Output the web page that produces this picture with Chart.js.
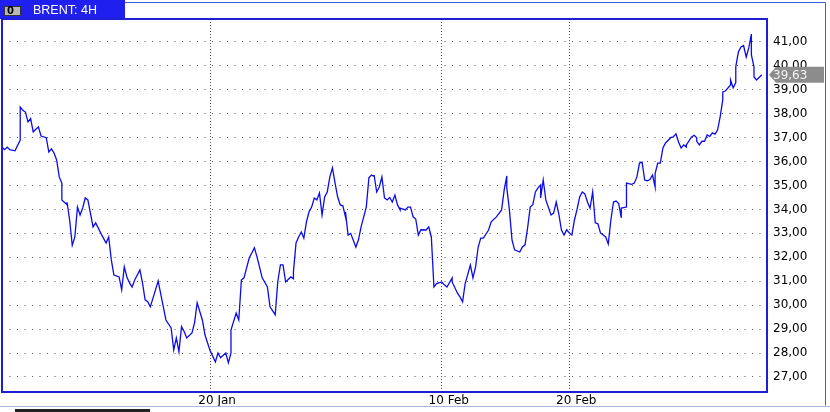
<!DOCTYPE html>
<html>
<head>
<meta charset="utf-8">
<script src="https://cdn.jsdelivr.net/npm/chart.js@4"></script>
<style>
html, body { margin: 0; padding: 0; background: #fff; }
</style>
</head>
<body>
<canvas id="brentChart" width="830" height="412"></canvas>
<script>
// 4H bars of Brent, bar number counted from the first bar on screen
const barNumbers = [
    0, 1, 2, 3, 5, 7, 7, 8, 9, 10,
    11, 12, 13, 14, 15, 17, 18, 19, 20, 21,
    22, 23, 23, 25, 25, 26, 27, 28, 29, 30,
    31, 32, 33, 35, 36, 38, 40, 41, 42, 43,
    45, 46, 47, 48, 49, 50, 51, 53, 54, 55,
    56, 57, 59, 60, 62, 63, 65, 66, 67, 68,
    69, 70, 71, 73, 74, 75, 77, 78, 79, 80,
    82, 83, 84, 86, 87, 88, 88, 90, 91, 92,
    93, 95, 96, 97, 98, 100, 102, 103, 105, 106,
    107, 108, 109, 111, 112, 112, 113, 114, 115, 116,
    117, 118, 119, 120, 121, 122, 123, 124, 125, 126,
    127, 128, 129, 130, 131, 132, 132, 133, 134, 136,
    137, 138, 140, 141, 142, 143, 143, 144, 145, 146,
    147, 148, 149, 150, 151, 152, 153, 153, 155, 156,
    157, 158, 159, 160, 161, 163, 163, 164, 165, 166,
    167, 169, 170, 171, 173, 173, 175, 176, 177, 178,
    180, 181, 182, 183, 184, 185, 187, 188, 190, 192,
    193, 194, 194, 195, 196, 197, 199, 200, 201, 202,
    203, 204, 205, 206, 207, 207, 208, 209, 211, 212,
    213, 214, 215, 216, 217, 218, 219, 220, 221, 222,
    223, 224, 225, 226, 227, 228, 229, 230, 232, 233,
    234, 235, 236, 237, 238, 238, 240, 240, 242, 243,
    244, 245, 246, 247, 248, 249, 250, 251, 251, 252,
    253, 254, 255, 257, 258, 259, 260, 261, 262, 263,
    263, 265, 266, 267, 267, 268, 269, 270, 271, 272,
    273, 274, 275, 276, 277, 277, 278, 280, 280, 281,
    282, 282, 283, 284, 285, 286, 287, 288, 288, 288,
    289, 289, 290, 292
];

const closePrices = [
    36.61, 36.5, 36.6, 36.5, 36.45, 36.9, 38.28, 38.15, 38.07, 37.66,
    37.8, 37.24, 37.35, 37.45, 37.07, 37.0, 36.4, 36.53, 36.36, 36.07,
    35.36, 35.1, 34.4, 34.2, 34.3, 33.56, 32.5, 32.85, 34.1, 33.77,
    34.06, 34.48, 34.4, 33.27, 33.44, 33.0, 32.6, 32.85, 31.9, 31.26,
    31.18, 30.64, 31.6, 31.18, 30.93, 30.76, 31.05, 31.47, 30.93, 30.22,
    30.14, 29.93, 30.64, 31.01, 29.93, 29.38, 29.05, 28.13, 28.63, 28.05,
    29.1, 28.9, 28.63, 28.84, 29.26, 30.1, 29.38, 28.76, 28.42, 28.09,
    27.63, 28.0, 27.8, 28.0, 27.59, 28.0, 28.96, 29.67, 29.38, 31.05,
    31.14, 31.97, 32.18, 32.4, 32.02, 31.14, 30.76, 29.93, 29.6, 31.0,
    31.68, 31.68, 30.97, 31.18, 31.1, 31.39, 32.6, 32.85, 33.06, 32.8,
    33.48, 33.9, 34.1, 34.48, 34.4, 34.69, 33.77, 34.52, 34.73, 35.36,
    35.74, 35.1, 34.52, 34.19, 34.15, 33.69, 33.9, 32.93, 33.0, 32.43,
    32.73, 33.27, 34.1, 35.32, 35.44, 35.38, 35.44, 34.73, 34.94, 35.36,
    34.48, 34.4, 34.5, 34.31, 34.6, 34.19, 33.98, 34.05, 33.98, 34.1,
    34.1, 33.69, 33.6, 32.93, 33.15, 33.14, 33.14, 33.27, 32.85, 30.76,
    30.9, 30.97, 30.85, 30.76, 31.14, 30.97, 30.51, 30.35, 30.14, 30.9,
    31.68, 31.14, 31.6, 32.43, 32.8, 32.8, 33.14, 33.48, 33.69, 33.98,
    34.82, 35.4, 34.9, 33.98, 32.73, 32.31, 32.22, 32.43, 32.52, 33.23,
    34.1, 34.2, 34.73, 34.9, 35.02, 34.48, 35.23, 34.4, 33.77, 33.85,
    34.31, 33.8, 33.14, 32.93, 33.15, 33.02, 32.93, 33.56, 34.0, 34.52,
    34.73, 34.65, 34.31, 34.05, 34.73, 33.44, 33.4, 33.02, 32.85, 32.56,
    33.56, 34.31, 34.35, 34.25, 33.65, 34.06, 34.1, 35.1, 35.05, 35.1,
    35.36, 35.94, 35.98, 35.23, 35.2, 35.25, 35.44, 34.94, 35.5, 35.94,
    35.94, 36.57, 36.78, 37.0, 37.03, 37.16, 36.82, 36.57, 36.7, 36.61,
    36.7, 37.03, 37.1, 37.0, 36.85, 36.7, 36.85, 36.85, 37.11, 37.05,
    37.2, 37.15, 37.32, 37.87, 38.58, 38.91, 38.95, 39.2, 39.41, 39.08,
    39.3, 39.96, 40.58, 40.79, 40.85, 40.37, 40.75, 41.33, 40.9, 40.46,
    39.96, 39.54, 39.41, 39.63
];

const priceTicks = [27, 28, 29, 30, 31, 32, 33, 34, 35, 36, 37, 38, 39, 40, 41];
const dateTicks = [80, 169, 218];
const dateLabels = ['20 Jan', '10 Feb', '20 Feb'];
const symbolTitle = 'BRENT: 4H';
const lastPrice = 39.63;

const fontFamily = 'DejaVu Sans';

function formatPrice(v) {
    return v.toFixed(2).replace('.', ',');
}

// window frame, title tab, plot border and the last-price marker
const terminalChrome = {
    id: 'terminalChrome',
    afterDraw(chart) {
        const ctx = chart.ctx;
        const area = chart.chartArea;
        ctx.save();

        // outer window border
        ctx.strokeStyle = '#3c5ae6';
        ctx.lineWidth = 1;
        ctx.beginPath();
        ctx.moveTo(125, 2.5);
        ctx.lineTo(825.5, 2.5);
        ctx.lineTo(825.5, 405.5);
        ctx.stroke();
        ctx.strokeStyle = '#a9b9d9';
        ctx.beginPath();
        ctx.moveTo(0, 406.5);
        ctx.lineTo(830, 406.5);
        ctx.stroke();
        ctx.fillStyle = '#222';
        ctx.fillRect(15, 409, 135, 3);

        // title tab
        ctx.fillStyle = '#1f1ff0';
        ctx.fillRect(0, 0, 125, 19);
        ctx.fillStyle = '#b8b8b8';
        ctx.fillRect(4, 6, 17, 10);
        ctx.strokeStyle = '#333';
        ctx.strokeRect(4.5, 6.5, 16, 9);
        ctx.fillStyle = '#000';
        ctx.font = 'bold 10px ' + fontFamily;
        ctx.textBaseline = 'middle';
        ctx.textAlign = 'left';
        ctx.fillText('0', 7, 11.5);
        ctx.fillStyle = '#fff';
        ctx.font = '12.5px "Liberation Sans"';
        ctx.fillText(symbolTitle, 33, 10.5);

        // plot border
        ctx.strokeStyle = '#1e1ed2';
        ctx.lineWidth = 2;
        ctx.strokeRect(area.left, area.top, area.right - area.left, area.bottom - area.top);

        // last price marker
        const y = chart.scales.y.getPixelForValue(lastPrice);
        const tipX = area.right + 2;
        ctx.fillStyle = '#8c8c8c';
        ctx.beginPath();
        ctx.moveTo(tipX, y);
        ctx.lineTo(tipX + 7, y - 8);
        ctx.lineTo(824, y - 8);
        ctx.lineTo(824, y + 8);
        ctx.lineTo(tipX + 7, y + 8);
        ctx.closePath();
        ctx.fill();
        ctx.fillStyle = '#f2f2f2';
        ctx.font = '12px ' + fontFamily;
        ctx.textBaseline = 'middle';
        ctx.fillText(formatPrice(lastPrice), area.right + 6, y + 1);

        ctx.restore();
    }
};

const brentChart = new Chart(document.getElementById('brentChart'), {
    type: 'line',
    data: {
        datasets: [{
            label: 'Brent',
            data: barNumbers.map((bar, i) => ({ x: bar, y: closePrices[i] })),
            borderColor: '#0c0ce8',
            borderWidth: 1.3,
            pointRadius: 0,
            tension: 0,
            fill: false
        }]
    },
    options: {
        responsive: false,
        animation: false,
        layout: { padding: { left: 2, top: 19, right: 0, bottom: 0 } },
        plugins: {
            legend: { display: false },
            tooltip: { enabled: false }
        },
        scales: {
            x: {
                type: 'linear',
                min: 0,
                max: 294,
                afterBuildTicks: scale => {
                    scale.ticks = dateTicks.map(v => ({ value: v }));
                },
                afterFit: scale => { scale.height = 20; },
                grid: { color: '#555', lineWidth: 1, drawTicks: false },
                border: { display: false, dash: [1, 2] },
                ticks: {
                    autoSkip: false,
                    maxRotation: 0,
                    padding: 2,
                    labelOffset: 7,
                    color: '#000',
                    font: { family: fontFamily, size: 12 },
                    callback: (value, index) => dateLabels[index]
                }
            },
            y: {
                position: 'right',
                min: 26.37,
                max: 41.96,
                afterBuildTicks: scale => {
                    scale.ticks = priceTicks.map(v => ({ value: v }));
                },
                afterFit: scale => { scale.width = 63; },
                grid: { color: '#555', lineWidth: 1, drawTicks: false },
                border: { display: false, dash: [1, 6.5] },
                ticks: {
                    padding: 6,
                    color: '#000',
                    font: { family: fontFamily, size: 12 },
                    callback: value => formatPrice(value)
                }
            }
        }
    },
    plugins: [terminalChrome]
});
</script>
</body>
</html>
